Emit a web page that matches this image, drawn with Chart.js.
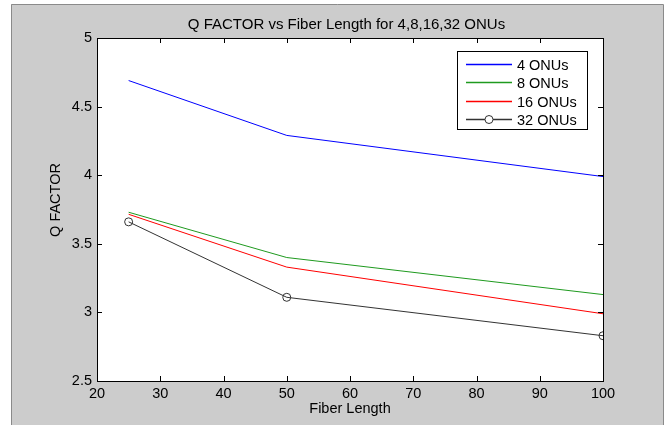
<!DOCTYPE html>
<html><head><meta charset="utf-8">
<script src="https://cdn.jsdelivr.net/npm/chart.js@4/dist/chart.umd.min.js"></script>
<style>html,body{margin:0;padding:0;background:#fff;}#wrap{width:670px;height:425px;}</style>
</head><body><div id="wrap"><canvas id="c" width="670" height="425"></canvas></div>
<script>
const fiberLength = [25, 50, 100];
const seriesLabels = ['4 ONUs', '8 ONUs', '16 ONUs', '32 ONUs'];
const q4 = [4.69, 4.29, 3.99];
const q8 = [3.73, 3.40, 3.13];
const q16 = [3.715, 3.33, 2.99];
const q32 = [3.66, 3.11, 2.83];
const xTicks = [20, 30, 40, 50, 60, 70, 80, 90, 100];
const yTicks = [2.5, 3, 3.5, 4, 4.5, 5];
const titleText = 'Q FACTOR vs Fiber Length for 4,8,16,32 ONUs';
const xTitle = 'Fiber Length';
const yTitle = 'Q FACTOR';

const FONT = "'Liberation Sans', Arial, sans-serif";
const FS = 14.5;
const colors = ['#0000ff', '#1f9a1f', '#ff0000', '#333333'];
const values = [q4, q8, q16, q32];

const datasets = values.map((v, i) => ({
  label: seriesLabels[i],
  data: fiberLength.map((x, j) => ({x: x, y: v[j]})),
  borderColor: colors[i],
  backgroundColor: 'rgba(0,0,0,0)',
  borderWidth: 1,
  showLine: true,
  tension: 0,
  pointRadius: i === 3 ? 4 : 0,
  pointBorderColor: colors[i],
  pointBorderWidth: 1,
  pointBackgroundColor: 'rgba(0,0,0,0)',
  pointHoverRadius: 0
}));

const framePlugin = {
  id: 'frame',
  beforeDraw(chart) {
    const ctx = chart.ctx, a = chart.chartArea;
    ctx.save();
    ctx.fillStyle = '#ffffff';
    ctx.fillRect(0, 0, chart.width, chart.height);
    ctx.fillStyle = '#cccccc';
    ctx.fillRect(11, 4, 652, 421);
    ctx.strokeStyle = '#8a8a8a';
    ctx.lineWidth = 1;
    ctx.beginPath();
    ctx.moveTo(11.5, 425); ctx.lineTo(11.5, 4.5); ctx.lineTo(663.5, 4.5); ctx.lineTo(663.5, 425);
    ctx.stroke();
    ctx.fillStyle = '#ffffff';
    ctx.fillRect(a.left, a.top, a.right - a.left, a.bottom - a.top);
    ctx.fillStyle = '#000';
    ctx.font = '15px ' + FONT;
    ctx.textAlign = 'center';
    ctx.textBaseline = 'alphabetic';
    ctx.fillText(titleText, 346.5, 28.5);
    ctx.font = FS + 'px ' + FONT;
    ctx.translate(60, 200);
    ctx.rotate(-Math.PI / 2);
    ctx.fillText(yTitle, 0, 0);
    ctx.restore();
  },
  afterDraw(chart) {
    const ctx = chart.ctx, a = chart.chartArea;
    const xs = chart.scales.x, ys = chart.scales.y;
    ctx.save();
    ctx.strokeStyle = '#000';
    ctx.lineWidth = 1;
    ctx.strokeRect(Math.round(a.left) + 0.5, Math.round(a.top) + 0.5, Math.round(a.right - a.left), Math.round(a.bottom - a.top));
    ctx.beginPath();
    const L = 5;
    xTicks.forEach(t => {
      const px = Math.round(xs.getPixelForValue(t)) + 0.5;
      ctx.moveTo(px, a.bottom); ctx.lineTo(px, a.bottom - L);
      ctx.moveTo(px, a.top); ctx.lineTo(px, a.top + L);
    });
    yTicks.forEach(t => {
      const py = Math.round(ys.getPixelForValue(t)) + 0.5;
      ctx.moveTo(a.left, py); ctx.lineTo(a.left + L, py);
      ctx.moveTo(a.right, py); ctx.lineTo(a.right - L, py);
    });
    ctx.stroke();
    const bx = 457.5, by = 51.5, bw = 130, bh = 78;
    ctx.fillStyle = '#fff';
    ctx.fillRect(bx, by, bw, bh);
    ctx.strokeStyle = '#000';
    ctx.strokeRect(bx, by, bw, bh);
    ctx.font = FS + 'px ' + FONT;
    ctx.textAlign = 'left';
    ctx.textBaseline = 'middle';
    chart.data.datasets.forEach((ds, i) => {
      const y = Math.round(by + 12 + i * 18.6) + 0.5;
      ctx.strokeStyle = ds.borderColor;
      ctx.lineWidth = 1.4;
      ctx.beginPath();
      ctx.moveTo(466, y); ctx.lineTo(512, y);
      ctx.stroke();
      ctx.lineWidth = 1;
      if (ds.pointRadius > 0) {
        ctx.fillStyle = '#fff';
        ctx.beginPath();
        ctx.arc(489, y, 4, 0, Math.PI * 2);
        ctx.fill();
        ctx.stroke();
      }
      ctx.fillStyle = '#000';
      ctx.fillText(ds.label, 517, y + 1);
    });
    ctx.restore();
  }
};

new Chart(document.getElementById('c'), {
  type: 'scatter',
  data: { datasets: datasets },
  options: {
    responsive: false,
    animation: false,
    events: [],
    layout: { padding: { left: 0, top: 38, right: 67, bottom: 0 } },
    plugins: { legend: { display: false }, title: { display: false }, tooltip: { enabled: false } },
    scales: {
      x: {
        type: 'linear', min: 20, max: 100,
        afterFit(s) { s.height = 44; },
        afterBuildTicks(s) { s.ticks = xTicks.map(v => ({value: v})); },
        grid: { drawOnChartArea: false, drawTicks: false },
        border: { display: false },
        ticks: { color: '#000', padding: 4, font: { family: FONT, size: FS }, maxRotation: 0, autoSkip: false },
        title: { display: true, text: xTitle, color: '#000', font: { family: FONT, size: FS }, padding: { top: 0, bottom: 7 } }
      },
      y: {
        type: 'linear', min: 2.5, max: 5,
        afterFit(s) { s.width = 97; },
        afterBuildTicks(s) { s.ticks = yTicks.map(v => ({value: v})); },
        grid: { drawOnChartArea: false, drawTicks: false },
        border: { display: false },
        ticks: { color: '#000', padding: 5, font: { family: FONT, size: FS }, autoSkip: false, callback: v => String(v) },
        title: { display: false }
      }
    }
  },
  plugins: [framePlugin]
});
</script></body></html>
